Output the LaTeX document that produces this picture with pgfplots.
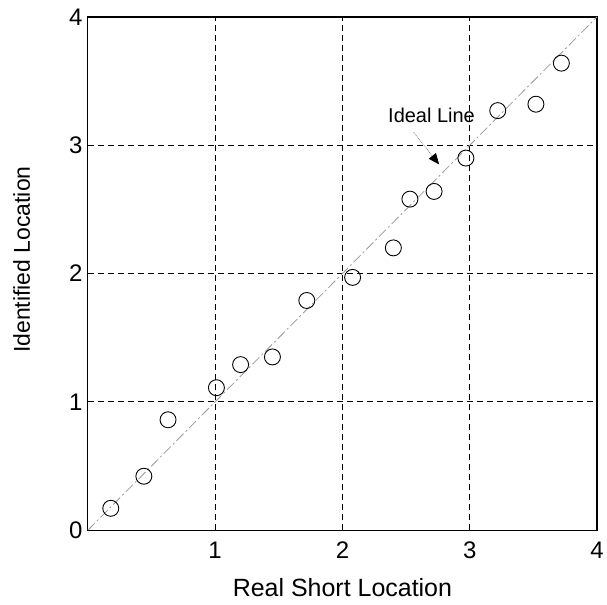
\documentclass[border=0pt]{standalone}
\usepackage{fontspec}
\setmainfont{Liberation Sans}
\usepackage{pgfplots}
\pgfplotsset{compat=1.18}
\usetikzlibrary{arrows.meta}
\begin{document}
\begin{tikzpicture}
\begin{axis}[
  scale only axis,
  width=510pt, height=514pt,
  xmin=0, xmax=4, ymin=0, ymax=4,
  xtick={1,2,3,4}, ytick={0,1,2,3,4},
  major tick length=0pt,
  grid=major,
  major grid style={black, dashed, line width=0.7pt, dash pattern=on 6pt off 4pt},
  axis line style={black, line width=1.1pt},
  tick label style={font=\fontsize{24}{26}\selectfont},
  /pgf/number format/assume math mode=true,
  xticklabel style={yshift=-8pt},
  yticklabel style={xshift=-2pt},
  xlabel={Real Short Location},
  ylabel={Identified Location},
  xlabel style={font=\fontsize{25}{27}\selectfont, yshift=-13pt},
  ylabel style={font=\fontsize{23}{25}\selectfont, yshift=32pt, xshift=14pt},
  clip=false,
]
\addplot[gray!80, line width=0.8pt, dash pattern=on 10pt off 3pt on 2pt off 3pt] coordinates {(0,0) (4,4)};
\addplot[only marks, mark=o, mark size=8pt, mark options={black, line width=0.9pt}] coordinates {
(0.18,0.17) (0.44,0.42) (0.63,0.86) (1.01,1.11) (1.20,1.29) (1.45,1.35)
(1.72,1.79) (2.08,1.97) (2.40,2.20) (2.53,2.58) (2.72,2.64) (2.97,2.90)
(3.22,3.27) (3.52,3.32) (3.72,3.64)};
\node[font=\fontsize{20}{22}\selectfont] at (axis cs:2.7,3.23) {Ideal Line};
\draw[gray, densely dotted, line width=0.8pt, -{Triangle[black,length=11pt,width=9pt]}] (axis cs:2.56,3.1) -- (axis cs:2.76,2.85);
\end{axis}
\path (current axis.south west) ++(-88pt,-75pt) coordinate (bl);
\path (current axis.north east) ++(5pt,17pt) coordinate (tr);
\path (bl) rectangle (tr);
\end{tikzpicture}
\end{document}
